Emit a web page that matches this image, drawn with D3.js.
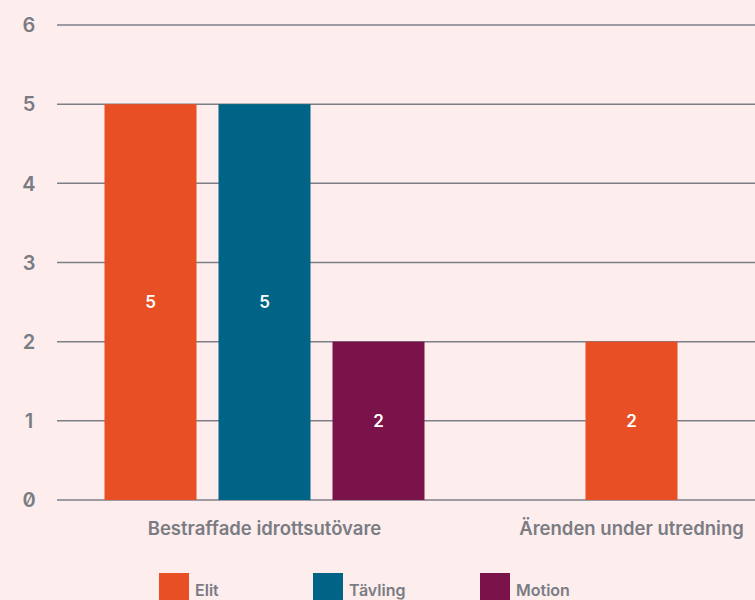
<!DOCTYPE html>
<html>
<head>
<meta charset="utf-8">
<script src="https://cdn.jsdelivr.net/npm/d3@7"></script>
<style>
  body { margin: 0; background: #fdeded; }
  svg { display: block; font-family: Inter, "Noto Sans", sans-serif; }
</style>
</head>
<body>
<div id="chart"></div>
<script>
var categories = ["Bestraffade idrottsutövare", "Ärenden under utredning"];
var seriesNames = ["Elit", "Tävling", "Motion"];
var seriesColors = ["#e94f24", "#006487", "#7b134b"];
var elitValues = [5, 2];
var tavlingValues = [5, null];
var motionValues = [2, null];
var yTicks = [0, 1, 2, 3, 4, 5, 6];

var values = [elitValues, tavlingValues, motionValues];

var width = 755, height = 600;
var svg = d3.select("#chart").append("svg")
    .attr("width", width)
    .attr("height", height);

svg.append("rect").attr("width", width).attr("height", height).attr("fill", "#fdeded");

var y = d3.scaleLinear().domain([0, 6]).range([500, 25]);
var x = d3.scaleBand().domain(categories).range([81, 815]);

// grid lines
svg.append("g").selectAll("line")
    .data(yTicks)
    .enter().append("line")
    .attr("x1", 57)
    .attr("x2", width)
    .attr("y1", function(d){ return y(d); })
    .attr("y2", function(d){ return y(d); })
    .style("stroke", "#7d7f87")
    .style("stroke-width", 1.5);

// y tick labels
svg.append("g").selectAll("text")
    .data(yTicks)
    .enter().append("text")
    .attr("x", 29)
    .attr("y", function(d){ return y(d); })
    .attr("dy", "0.36em")
    .attr("text-anchor", "middle")
    .style("font-size", "20px")
    .style("font-weight", 600)
    .style("font-feature-settings", "'zero' 1")
    .style("fill", "#7a7c84")
    .text(function(d){ return d; });

var barW = 92, barGap = 22;

categories.forEach(function(cat, ci){
    var present = [];
    for (var s in seriesNames) {
        if (values[s][ci] !== null) present.push(+s);
    }
    var total = present.length * barW + (present.length - 1) * barGap;
    var start = x(cat) + x.bandwidth() / 2 - total / 2;
    var g = svg.append("g");
    present.forEach(function(s, k){
        var v = values[s][ci];
        var bx = start + k * (barW + barGap);
        g.append("rect")
            .attr("x", bx)
            .attr("y", y(v))
            .attr("width", barW)
            .attr("height", y(0) - y(v))
            .attr("fill", seriesColors[s]);
        g.append("text")
            .attr("x", bx + barW / 2)
            .attr("y", (y(v) + y(0)) / 2)
            .attr("dy", "0.36em")
            .attr("text-anchor", "middle")
            .style("font-size", "17px")
            .style("font-weight", 600)
            .style("fill", "#ffffff")
            .text(v);
    });
    svg.append("text")
        .attr("x", x(cat) + x.bandwidth() / 2)
        .attr("y", 535)
        .attr("text-anchor", "middle")
        .style("font-size", "18.5px")
        .style("font-weight", 600)
        .style("fill", "#7a7c84")
        .text(cat);
});

// legend
var legendX = [159, 313, 480];
var legend = svg.append("g").selectAll("g")
    .data(seriesNames)
    .enter().append("g")
    .attr("transform", function(d, i){ return "translate(" + legendX[i] + ",573)"; });
legend.append("rect")
    .attr("width", 30)
    .attr("height", 30)
    .attr("fill", function(d, i){ return seriesColors[i]; });
legend.append("text")
    .attr("x", 36)
    .attr("y", 23)
    .style("font-size", "16px")
    .style("font-weight", 600)
    .style("fill", "#7a7c84")
    .text(function(d){ return d; });
</script>
</body>
</html>
